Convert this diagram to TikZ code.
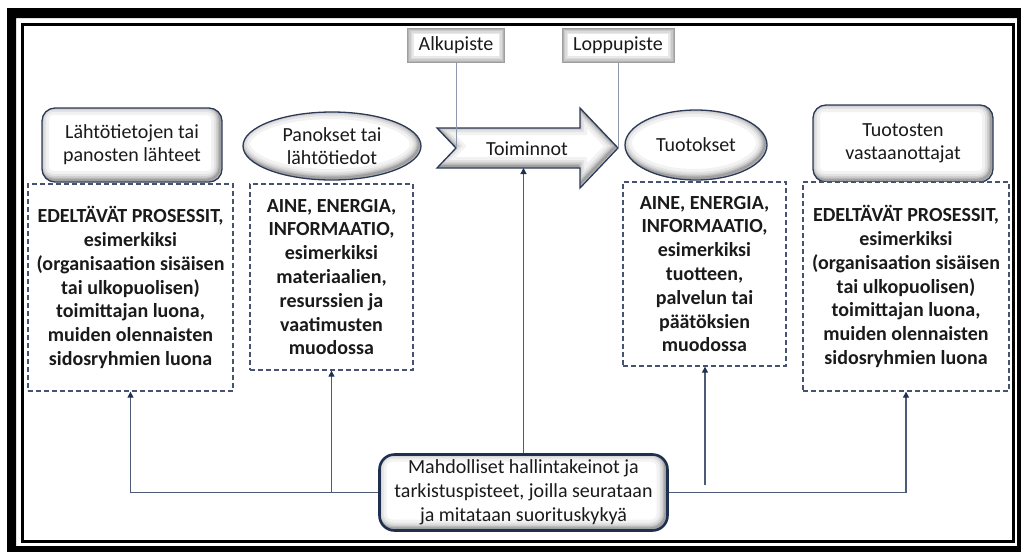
\documentclass[tikz,border=0pt]{standalone}
\usepackage{fontspec}
\setmainfont{Carlito}
\usetikzlibrary{shapes.geometric,arrows.meta,calc}

\definecolor{edge}{HTML}{2C3A57}
\definecolor{ctrledge}{HTML}{1F2F4F}
\definecolor{conn}{HTML}{4E5B78}
\definecolor{tipc}{HTML}{1F3050}
\definecolor{ink}{HTML}{1A1A1A}
\definecolor{dashc}{HTML}{465370}
\definecolor{guide}{HTML}{8E97AB}

% soft inner shadow for rounded boxes (light from the upper left)
\newcommand\glowrect[1]{%
  \foreach \w/\o in {18/0.05,12/0.06,8/0.08,5/0.10,2.5/0.14}{%
    \draw[line width=\w pt, black, opacity=\o, rounded corners=#1]
      ([shift={(-2,-2)}]path picture bounding box.south west) rectangle
      ([shift={(-2,-2)}]path picture bounding box.north east);}}
% the same for ellipses
\newcommand\glowellipse{%
  \foreach \w/\o in {18/0.05,12/0.06,8/0.08,5/0.10,2.5/0.14}{%
    \draw[line width=\w pt, black, opacity=\o]
      let \p1=($(path picture bounding box.north east)-(path picture bounding box.center)$) in
      ([shift={(-2,-2)}]path picture bounding box.center) ellipse [x radius=\x1, y radius=\y1];}}

\tikzset{
  txt/.style={font=\fontsize{20}{23}\selectfont, text=ink, align=center, inner sep=0pt},
  glowbox/.style={txt, draw=edge, line width=1.3pt, fill=white, rounded corners=13pt,
    path picture={\glowrect{13pt}}},
  glowell/.style={txt, ellipse, draw=edge, line width=1.3pt, fill=white,
    path picture={\glowellipse}},
  labelbox/.style={txt, fill=white, draw=gray!75, line width=0.8pt, minimum height=34pt,
    path picture={\foreach \w/\c in {12/gray!18,9/gray!28,6/gray!42,3/gray!60}{%
      \draw[line width=\w pt,\c] (path picture bounding box.south west) rectangle
        (path picture bounding box.north east);}}},
  dashbox/.style={txt, font=\fontsize{20}{23.8}\selectfont\bfseries, draw=dashc,
    line width=1.3pt, dash pattern=on 5pt off 3pt, fill=white},
  ctrlbox/.style={txt, font=\fontsize{20}{24}\selectfont, draw=ctrledge, line width=2.6pt,
    fill=white, rounded corners=15pt, path picture={\glowrect{15pt}}},
  conn/.style={draw=conn, line width=1.1pt},
  connarrow/.style={conn, -{Triangle[width=6pt,length=6pt,color=tipc]}},
  guideline/.style={draw=guide, line width=0.9pt}
}

\begin{document}
\begin{tikzpicture}[x=1pt, y=-1pt]
\useasboundingbox (0,0) rectangle (1021,552);

% double frame
\fill[black, even odd rule] (7,8) rectangle (1030,560) (16,18) rectangle (1017,546);
\draw[line width=3pt] (22.5,24) rectangle (1013.5,541.5);

% block arrow of the activities
\begin{scope}
  \clip (437,128) -- (580,128) -- (580,108) -- (618,148) -- (580,188)
        -- (580,168) -- (437,168) -- (456,148) -- cycle;
  \fill[white] (430,100) rectangle (625,195);
  \foreach \w/\o in {18/0.05,12/0.06,8/0.08,5/0.10,2.5/0.14}{%
    \draw[shift={(-2,-2)}, line width=\w pt, black, opacity=\o, line join=miter]
      (437,128) -- (580,128) -- (580,108) -- (618,148) -- (580,188)
      -- (580,168) -- (437,168) -- (456,148) -- cycle;}
\end{scope}
\draw[edge, line width=1.3pt, line join=miter]
  (437,128) -- (580,128) -- (580,108) -- (618,148) -- (580,188)
  -- (580,168) -- (437,168) -- (456,148) -- cycle;
\node[txt] (act) at (527,149) {Toiminnot};
\coordinate (notch) at (456,148);
\coordinate (tipA) at (618,148);
\coordinate (actbot) at (523.5,168);

% start and end labels
\node[labelbox, minimum width=97pt] (alku) at (456,45) {Alkupiste};
\node[labelbox, minimum width=112pt] (loppu) at (618,45) {Loppupiste};
\draw[guideline] (alku.south) -- (notch);
\draw[guideline] (loppu.south) -- (tipA);

% headers
\node[glowbox, minimum width=180pt, minimum height=74pt] (src) at (132,145)
  {Lähtötietojen tai\\panosten lähteet};
\node[glowell, minimum width=178pt, minimum height=68pt] (inp) at (332,146)
  {Panokset tai\\lähtötiedot};
\node[glowell, minimum width=142pt, minimum height=70pt] (outp) at (696,145)
  {Tuotokset};
\node[glowbox, minimum width=180pt, minimum height=77pt] (recv) at (903,143.5)
  {Tuotosten\\vastaanottajat};

% detail boxes
\node[dashbox, minimum width=205pt, minimum height=207pt] (d1) at (130.5,287.5)
  {EDELTÄVÄT PROSESSIT,\\esimerkiksi\\(organisaation sisäisen\\tai ulkopuolisen)\\toimittajan luona,\\muiden olennaisten\\sidosryhmien luona};
\node[dashbox, minimum width=163pt, minimum height=186pt] (d2) at (331.5,277)
  {AINE, ENERGIA,\\INFORMAATIO,\\esimerkiksi\\materiaalien,\\resurssien ja\\vaatimusten\\muodossa};
\node[dashbox, minimum width=163pt, minimum height=184pt] (d3) at (704.5,274)
  {AINE, ENERGIA,\\INFORMAATIO,\\esimerkiksi\\tuotteen,\\palvelun tai\\päätöksien\\muodossa};
\node[dashbox, minimum width=206pt, minimum height=209pt] (d4) at (906,286.5)
  {EDELTÄVÄT PROSESSIT,\\esimerkiksi\\(organisaation sisäisen\\tai ulkopuolisen)\\toimittajan luona,\\muiden olennaisten\\sidosryhmien luona};

% controls and checkpoints
\node[ctrlbox, minimum width=288pt, minimum height=76pt] (ctrl) at (523.5,492.5)
  {Mahdolliset hallintakeinot ja\\tarkistuspisteet, joilla seurataan\\ja mitataan suorituskykyä};

\coordinate (c3) at (705,485);
\draw[connarrow] (ctrl.west) -| (d1.south);
\draw[connarrow] (ctrl.west) -| (d2.south);
\draw[connarrow] (ctrl.east) -| (d4.south);
\draw[connarrow] (c3) -- (c3 |- d3.south);
\draw[connarrow] (ctrl.north) -- (actbot);
\end{tikzpicture}
\end{document}
